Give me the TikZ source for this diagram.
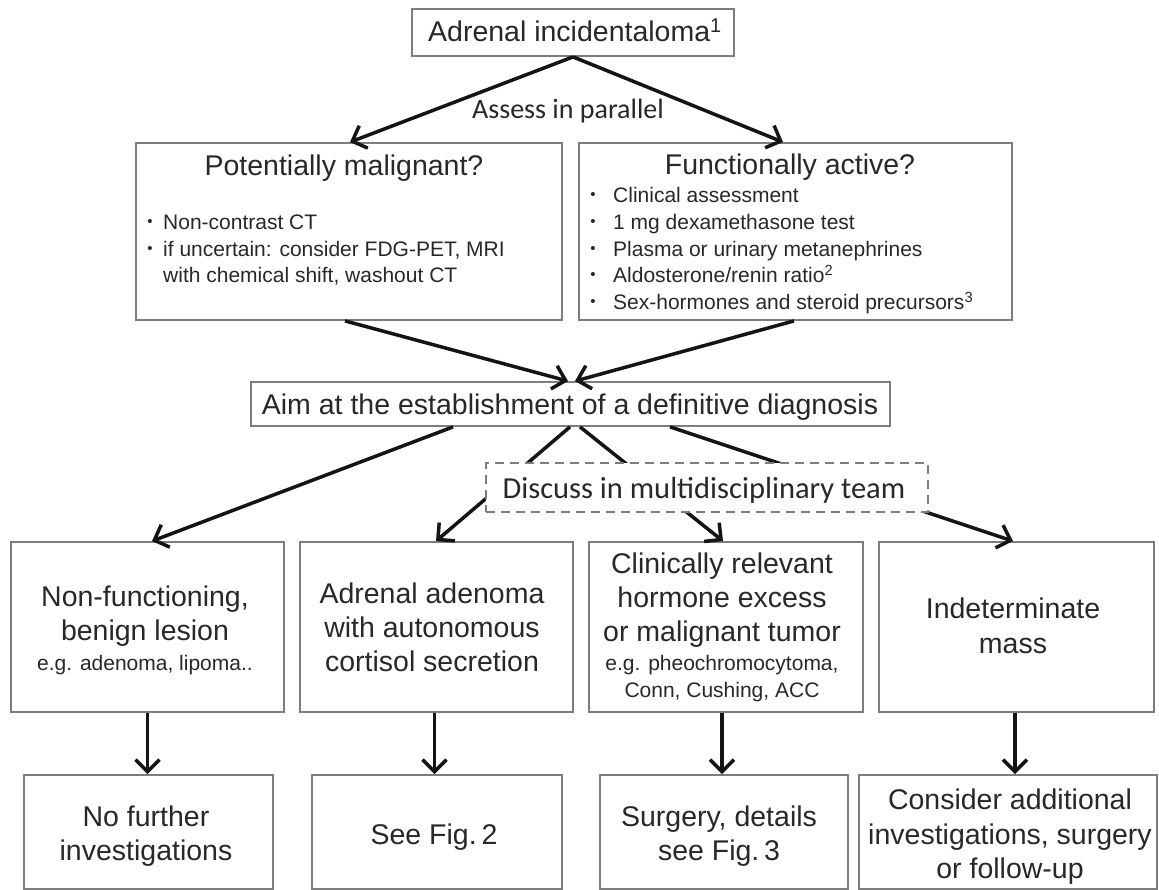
\documentclass[tikz,border=0pt]{standalone}
\usepackage{fontspec}
\setmainfont{Liberation Sans}
\newfontfamily\calfont{Carlito}
\usetikzlibrary{arrows.meta}
\definecolor{boxgray}{RGB}{125,125,125}
\definecolor{txt}{RGB}{40,40,40}
\definecolor{arr}{RGB}{20,20,20}
\begin{document}
\begin{tikzpicture}[x=1pt,y=-1pt,
 box/.style={draw=boxgray,line width=1.8pt,rectangle,inner sep=0pt},
 dbox/.style={box,dash pattern=on 9pt off 6pt,fill=white},
 big/.style={font=\fontsize{28.5}{34}\selectfont},
 small/.style={font=\fontsize{21}{26}\selectfont},
 cal/.style={font=\calfont\fontsize{28}{34}\selectfont},
 calb/.style={font=\calfont\fontsize{30.5}{36}\selectfont},
 lbl/.style={text=txt,inner sep=0pt},
 bul/.style={text=txt,inner sep=0pt,font=\fontsize{15}{15}\selectfont},
 arrow/.style={draw=arr,line width=3.5pt,-{Straight Barb[length=12pt,width=24pt]}}]
\fill[white] (0,0) rectangle (1159,890);
\useasboundingbox (0,0) rectangle (1159,890);

% top
\node[box,minimum width=322pt,minimum height=47pt] (top) at (573,32.5) {};
\node[lbl,big,anchor=base] (toptxt) at (575,42) {Adrenal incidentaloma\textsuperscript{1}};
\node[lbl,cal] (assess) at (568,111) {Assess in parallel};

% assessment boxes
\node[box,minimum width=426pt,minimum height=177pt] (pm) at (349,231.5) {};
\node[lbl,big,anchor=base] (pmt) at (344,176) {Potentially malignant?};
\node[bul] (pmb1) at (150,223) {\textbullet};
\node[bul] (pmb2) at (150,250) {\textbullet};
\node[lbl,small,anchor=base west] (pm1) at (163,230) {Non-contrast CT};
\node[lbl,small,anchor=base west] (pm2) at (163,257) {if uncertain: consider FDG-PET, MRI};
\node[lbl,small,anchor=base west] (pm3) at (163,283) {with chemical shift, washout CT};

\node[box,minimum width=433pt,minimum height=177pt] (fa) at (795.5,231.5) {};
\node[lbl,big,anchor=base] (fat) at (790,175) {Functionally active?};
\node[bul] (fab1) at (593,196) {\textbullet};
\node[bul] (fab2) at (593,223) {\textbullet};
\node[bul] (fab3) at (593,250) {\textbullet};
\node[bul] (fab4) at (593,276) {\textbullet};
\node[bul] (fab5) at (593,303) {\textbullet};
\node[lbl,small,anchor=base west] (fa1) at (613,203) {Clinical assessment};
\node[lbl,small,anchor=base west] (fa2) at (613,230) {1 mg dexamethasone test};
\node[lbl,small,anchor=base west] (fa3) at (613,257) {Plasma or urinary metanephrines};
\node[lbl,small,anchor=base west] (fa4) at (613,283) {Aldosterone/renin ratio\textsuperscript{2}};
\node[lbl,small,anchor=base west] (fa5) at (613,310) {Sex-hormones and steroid precursors\textsuperscript{3}};

% aim
\node[box,minimum width=639pt,minimum height=44pt] (aim) at (570.5,404) {};
\node[lbl,big,anchor=base] (aimt) at (570,414) {Aim at the establishment of a definitive diagnosis};

% row 1
\node[box,minimum width=273pt,minimum height=170pt] (b1) at (147.5,627) {};
\node[box,minimum width=273pt,minimum height=170pt] (b2) at (436.5,627) {};
\node[box,minimum width=274pt,minimum height=170pt] (b3) at (726,627) {};
\node[box,minimum width=275pt,minimum height=170pt] (b4) at (1016.5,627) {};

\node[lbl,big,anchor=base] (b1a) at (145,606) {Non-functioning,};
\node[lbl,big,anchor=base] (b1b) at (145,640) {benign lesion};
\node[lbl,small,anchor=base] (b1c) at (145,670) {e.g. adenoma, lipoma..};

\node[lbl,big,anchor=base] (b2a) at (432,603) {Adrenal adenoma};
\node[lbl,big,anchor=base] (b2b) at (432,637) {with autonomous};
\node[lbl,big,anchor=base] (b2c) at (432,671) {cortisol secretion};

\node[lbl,big,anchor=base] (b3a) at (722,573) {Clinically relevant};
\node[lbl,big,anchor=base] (b3b) at (722,607) {hormone excess};
\node[lbl,big,anchor=base] (b3c) at (722,641) {or malignant tumor};
\node[lbl,small,anchor=base] (b3d) at (722,670) {e.g. pheochromocytoma,};
\node[lbl,small,anchor=base] (b3e) at (722,697) {Conn, Cushing, ACC};

\node[lbl,big,anchor=base] (b4a) at (1013,618) {Indeterminate};
\node[lbl,big,anchor=base] (b4b) at (1013,653) {mass};

% row 2
\node[box,minimum width=249pt,minimum height=114pt] (c1) at (148.5,832) {};
\node[box,minimum width=250pt,minimum height=114pt] (c2) at (437,832) {};
\node[box,minimum width=248pt,minimum height=114pt] (c3) at (724,832) {};
\node[box,minimum width=298pt,minimum height=114pt] (c4) at (1008,832) {};

\node[lbl,big,anchor=base] (c1a) at (146,826) {No further};
\node[lbl,big,anchor=base] (c1b) at (146,860) {investigations};
\node[lbl,big,anchor=base] (c2a) at (434,844) {See Fig.\,2};
\node[lbl,big,anchor=base] (c3a) at (719,826) {Surgery, details};
\node[lbl,big,anchor=base] (c3b) at (719,860) {see Fig.\,3};
\node[lbl,big,anchor=base] (c4a) at (1010,809) {Consider additional};
\node[lbl,big,anchor=base] (c4b) at (1010,844) {investigations, surgery};
\node[lbl,big,anchor=base] (c4c) at (1010,878) {or follow-up};

% arrows
\draw[arrow] (top.south) -- ([xshift=1pt]pm.north);
\draw[arrow] (top.south) -- ([xshift=-12.5pt]fa.north);
\draw[arrow] ([xshift=-4pt]pm.south) -- ([xshift=-2.5pt]aim.north);
\draw[arrow] ([xshift=-1.5pt]fa.south) -- ([xshift=4.5pt]aim.north);
\draw[arrow] ([xshift=-117.5pt]aim.south) -- ([xshift=4.5pt]b1.north);
\draw[arrow] ([xshift=-0.5pt]aim.south) -- ([xshift=-0.5pt]b2.north);
\draw[arrow] ([xshift=9.5pt]aim.south) -- ([xshift=-3pt]b3.north);
\draw[arrow] ([xshift=99.5pt]aim.south) -- ([xshift=-3.5pt]b4.north);
\draw[arrow] (b1.south) -- (b1.south |- c1.north);
\draw[arrow] ([xshift=-2pt]b2.south) -- ([xshift=-2pt]b2.south |- c2.north);
\draw[arrow] ([xshift=-4pt]b3.south) -- ([xshift=-4pt]b3.south |- c3.north);
\draw[arrow] ([xshift=-1.5pt]b4.south) -- ([xshift=-1.5pt]b4.south |- c4.north);

% multidisciplinary team (drawn over the crossing lines)
\node[dbox,minimum width=442pt,minimum height=49pt] (mdt) at (707,487.5) {};
\node[lbl,calb,anchor=base] (mdtt) at (704,498) {Discuss in multidisciplinary team};
\end{tikzpicture}
\end{document}
